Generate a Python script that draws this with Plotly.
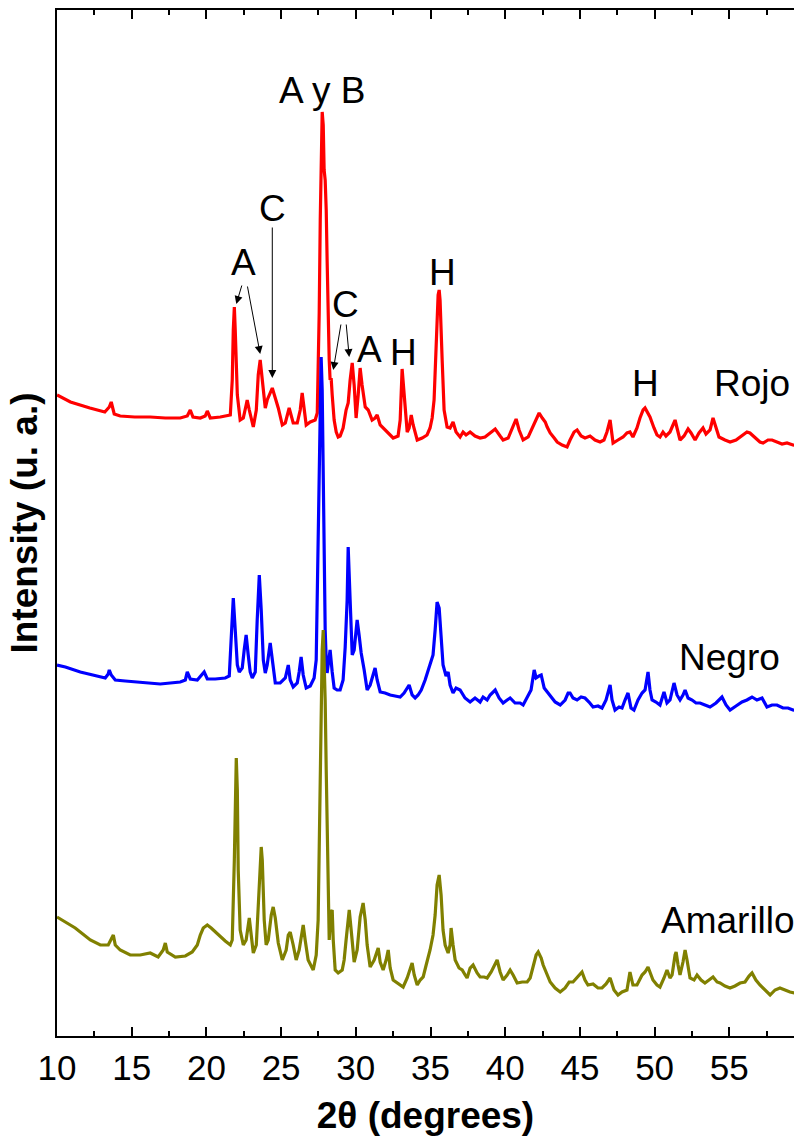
import plotly.graph_objects as go

# ---------------- data (2theta in degrees, stacked intensity in a.u.) ----------------
rojo_x = [10.0, 10.9, 12.2, 13.2, 13.5, 13.63, 13.83, 14.23, 15.2, 16.24, 17.25, 18.25, 18.72, 18.92, 19.1,
          19.59, 19.92, 20.06, 20.26, 20.93, 21.6, 21.73, 21.8, 21.87, 21.93, 22.07, 22.26, 22.47, 22.66, 22.73,
          22.87, 23.07, 23.14, 23.34, 23.47, 23.6, 23.74, 23.94, 24.07, 24.27, 24.41, 24.61, 24.81, 25.08, 25.28,
          25.54, 25.81, 26.08, 26.28, 26.41, 26.55, 26.68, 26.95, 27.28, 27.42, 27.48, 27.55, 27.62, 27.68, 27.75,
          27.82, 27.85, 27.88, 27.95, 28.02, 28.08, 28.15, 28.22, 28.28, 28.35, 28.42, 28.55, 28.69, 28.82, 28.95,
          29.15, 29.35, 29.49, 29.62, 29.76, 29.89, 30.02, 30.16, 30.29, 30.42, 30.63, 30.83, 31.09, 31.29, 31.43,
          31.63, 31.83, 32.17, 32.5, 32.83, 32.97, 33.1, 33.23, 33.44, 33.57, 33.71, 33.84, 34.11, 34.44, 34.77,
          34.97, 35.11, 35.24, 35.38, 35.51, 35.58, 35.64, 35.78, 35.91, 36.11, 36.31, 36.51, 36.71, 36.98, 37.18,
          37.38, 37.65, 37.98, 38.32, 38.65, 38.99, 39.33, 39.66, 39.86, 40.2, 40.47, 40.73, 40.93, 41.2, 41.54,
          41.8, 42.07, 42.27, 42.48, 42.68, 42.81, 43.01, 43.28, 43.48, 43.81, 44.14, 44.34, 44.61, 44.81, 45.08,
          45.34, 45.68, 46.01, 46.35, 46.61, 46.81, 47.02, 47.22, 47.55, 47.89, 48.15, 48.35, 48.55, 48.82, 49.02,
          49.23, 49.36, 49.56, 49.69, 49.96, 50.16, 50.36, 50.56, 50.76, 51.03, 51.23, 51.37, 51.5, 51.7, 51.97,
          52.24, 52.44, 52.71, 52.97, 53.24, 53.44, 53.71, 53.91, 54.11, 54.31, 54.71, 55.05, 55.45, 55.85, 56.18,
          56.38, 56.72, 57.05, 57.26, 57.59, 57.86, 58.19, 58.53, 58.86, 59.26, 59.73]
rojo_y = [641, 634, 628, 624, 629, 634, 622, 620, 619, 619, 618, 618, 620, 626, 619,
          618, 620, 625, 618, 619, 621, 656, 706, 729, 706, 641, 616, 618, 631, 636,
          626, 611, 609, 626, 661, 676, 656, 628, 636, 644, 648, 638, 628, 611, 613,
          628, 613, 613, 626, 643, 626, 611, 614, 616, 623, 656, 723, 816, 886, 924,
          911, 876, 866, 856, 826, 776, 716, 676, 656, 658, 641, 616, 604, 599, 600,
          608, 626, 633, 656, 673, 651, 618, 641, 668, 651, 629, 626, 616, 618, 621,
          611, 608, 604, 598, 600, 616, 667, 646, 604, 608, 621, 611, 596, 598, 601,
          608, 618, 636, 696, 741, 746, 736, 676, 626, 609, 608, 614, 604, 599, 604,
          601, 604, 600, 598, 599, 603, 607, 600, 596, 598, 608, 617, 606, 596, 599,
          608, 618, 623, 618, 614, 609, 603, 598, 594, 591, 589, 596, 604, 606, 600,
          598, 600, 596, 594, 596, 604, 616, 593, 596, 599, 603, 604, 599, 608, 618,
          626, 628, 623, 619, 608, 601, 599, 604, 600, 604, 611, 616, 608, 596, 600,
          607, 603, 596, 603, 608, 602, 606, 618, 608, 599, 596, 594, 596, 600, 604,
          603, 598, 594, 593, 596, 596, 594, 592, 593, 591, 590]

negro_x = [10.0, 10.56, 11.56, 12.56, 13.23, 13.43, 13.5, 13.63, 13.9, 14.57, 15.57, 16.24, 16.91, 17.58, 18.25,
           18.59, 18.72, 18.92, 19.39, 19.85, 20.06, 20.59, 21.26, 21.53, 21.67, 21.8, 21.93, 22.07, 22.2, 22.4,
           22.53, 22.66, 22.8, 22.93, 23.07, 23.27, 23.4, 23.54, 23.67, 23.81, 23.94, 24.07, 24.27, 24.41, 24.61,
           24.94, 25.28, 25.48, 25.61, 25.81, 26.08, 26.21, 26.34, 26.48, 26.68, 26.95, 27.21, 27.35, 27.48, 27.55,
           27.62, 27.68, 27.75, 27.82, 27.88, 27.95, 28.02, 28.08, 28.15, 28.28, 28.42, 28.55, 28.75, 28.95, 29.15,
           29.29, 29.42, 29.49, 29.62, 29.76, 29.89, 30.02, 30.09, 30.22, 30.36, 30.56, 30.76, 30.96, 31.16, 31.29,
           31.43, 31.63, 31.96, 32.3, 32.63, 32.97, 33.23, 33.44, 33.57, 33.77, 33.97, 34.17, 34.38, 34.64, 34.84,
           35.04, 35.17, 35.31, 35.44, 35.58, 35.71, 35.84, 36.04, 36.18, 36.31, 36.51, 36.71, 36.98, 37.31, 37.65,
           37.98, 38.32, 38.52, 38.79, 38.99, 39.33, 39.59, 39.86, 40.13, 40.33, 40.66, 41.0, 41.2, 41.47, 41.73,
           41.94, 42.07, 42.27, 42.41, 42.61, 42.81, 43.08, 43.34, 43.68, 44.01, 44.21, 44.34, 44.54, 44.81, 45.08,
           45.34, 45.61, 45.88, 46.21, 46.48, 46.75, 46.88, 47.02, 47.15, 47.35, 47.62, 47.82, 48.02, 48.22, 48.42,
           48.62, 48.89, 49.16, 49.36, 49.56, 49.69, 49.83, 50.09, 50.36, 50.63, 50.83, 51.03, 51.3, 51.5, 51.7,
           51.9, 52.04, 52.24, 52.51, 52.77, 53.04, 53.37, 53.71, 54.11, 54.51, 54.78, 55.05, 55.45, 55.85, 56.18,
           56.52, 56.85, 57.19, 57.52, 57.86, 58.19, 58.59, 58.93, 59.26, 59.73]
negro_y = [371, 369, 364, 360, 358, 362, 366, 361, 356, 355, 354, 353, 352, 353, 354,
           356, 364, 357, 356, 364, 357, 357, 358, 360, 396, 438, 406, 371, 364, 368,
           386, 401, 381, 364, 358, 364, 416, 461, 426, 376, 363, 371, 393, 376, 353,
           353, 358, 371, 356, 349, 353, 364, 379, 361, 348, 350, 358, 376, 496, 586,
           636, 679, 646, 563, 476, 406, 376, 363, 371, 386, 364, 348, 346, 346, 356,
           389, 436, 489, 436, 381, 386, 406, 416, 401, 383, 366, 346, 351, 361, 368,
           356, 344, 343, 341, 340, 339, 343, 348, 351, 341, 338, 341, 346, 356, 366,
           374, 381, 406, 434, 428, 396, 371, 360, 364, 351, 343, 348, 346, 338, 334,
           338, 334, 339, 336, 341, 346, 338, 333, 336, 338, 333, 333, 331, 338, 346,
           366, 358, 360, 361, 348, 344, 339, 334, 331, 336, 343, 343, 338, 336, 339,
           338, 334, 329, 330, 328, 336, 343, 351, 336, 326, 329, 328, 336, 343, 328,
           326, 336, 343, 346, 364, 346, 336, 334, 331, 344, 333, 336, 353, 341, 336,
           341, 346, 338, 336, 333, 333, 331, 329, 333, 339, 331, 326, 330, 334, 336,
           339, 336, 338, 329, 331, 331, 328, 328, 326, 325]

amarillo_x = [10.0, 10.56, 11.22, 12.23, 12.9, 13.43, 13.63, 13.77, 13.9, 14.23, 14.9, 15.57, 16.24, 16.77, 17.11,
              17.25, 17.38, 17.92, 18.59, 19.05, 19.39, 19.59, 19.79, 20.06, 20.32, 20.59, 20.93, 21.26, 21.6, 21.73,
              21.87, 21.93, 22.0, 22.07, 22.13, 22.26, 22.47, 22.66, 22.8, 22.87, 23.0, 23.14, 23.34, 23.47, 23.6,
              23.67, 23.74, 23.87, 24.0, 24.14, 24.34, 24.47, 24.61, 24.81, 25.08, 25.34, 25.48, 25.61, 25.81, 26.01,
              26.21, 26.34, 26.48, 26.61, 26.81, 27.15, 27.35, 27.48, 27.55, 27.62, 27.68, 27.75, 27.82, 27.88, 27.95,
              28.02, 28.08, 28.15, 28.22, 28.28, 28.35, 28.42, 28.49, 28.62, 28.82, 29.09, 29.22, 29.35, 29.49, 29.56,
              29.69, 29.89, 30.09, 30.29, 30.42, 30.49, 30.63, 30.76, 30.96, 31.23, 31.5, 31.63, 31.83, 32.03, 32.17,
              32.3, 32.5, 32.83, 33.17, 33.44, 33.64, 33.77, 33.91, 34.11, 34.31, 34.51, 34.71, 34.97, 35.17, 35.31,
              35.44, 35.58, 35.71, 35.84, 35.98, 36.18, 36.31, 36.38, 36.51, 36.65, 36.91, 37.12, 37.32, 37.45, 37.65,
              37.85, 38.12, 38.32, 38.59, 38.79, 39.06, 39.33, 39.46, 39.66, 39.86, 40.13, 40.33, 40.53, 40.8, 41.14,
              41.47, 41.67, 41.87, 42.07, 42.21, 42.41, 42.54, 42.81, 43.01, 43.34, 43.68, 44.01, 44.28, 44.54, 44.81,
              45.01, 45.14, 45.34, 45.54, 45.88, 46.21, 46.48, 46.75, 47.02, 47.28, 47.55, 47.82, 48.15, 48.35, 48.55,
              48.82, 49.16, 49.36, 49.56, 49.76, 49.89, 50.16, 50.36, 50.63, 50.83, 51.03, 51.17, 51.37, 51.44, 51.57,
              51.7, 51.9, 52.04, 52.17, 52.37, 52.64, 52.84, 53.11, 53.37, 53.64, 53.91, 54.18, 54.38, 54.71, 55.05,
              55.38, 55.72, 56.05, 56.32, 56.52, 56.78, 57.05, 57.39, 57.73, 58.06, 58.39, 58.73, 59.06, 59.39, 59.73]
amarillo_y = [119, 114, 108, 96, 91, 91, 98, 101, 91, 86, 81, 81, 83, 79, 86,
              93, 84, 79, 80, 84, 91, 101, 108, 111, 108, 104, 99, 95, 91, 96,
              176, 236, 278, 246, 166, 106, 91, 96, 111, 118, 101, 83, 91, 136, 181,
              189, 176, 116, 91, 96, 121, 129, 118, 93, 76, 86, 101, 104, 91, 76,
              86, 101, 111, 96, 76, 66, 81, 116, 186, 276, 336, 386, 406, 376, 336,
              266, 203, 146, 96, 111, 124, 126, 96, 66, 63, 66, 76, 96, 121, 126,
              106, 74, 86, 119, 128, 133, 116, 91, 69, 76, 88, 74, 66, 76, 86,
              68, 56, 53, 49, 58, 68, 73, 61, 51, 56, 59, 71, 86, 101, 121,
              151, 161, 141, 106, 91, 83, 91, 108, 91, 76, 68, 66, 61, 58, 68,
              71, 63, 59, 59, 58, 64, 73, 76, 64, 56, 61, 66, 61, 53, 54,
              54, 58, 71, 81, 84, 78, 71, 61, 54, 48, 44, 48, 54, 54, 58,
              61, 64, 56, 51, 52, 48, 48, 52, 58, 46, 41, 44, 46, 64, 51,
              51, 61, 64, 69, 61, 56, 51, 49, 58, 66, 58, 61, 81, 84, 71,
              61, 74, 86, 76, 58, 56, 61, 56, 53, 56, 59, 54, 53, 50, 48,
              50, 53, 54, 60, 63, 56, 51, 46, 41, 46, 48, 46, 44, 43, 42]

series_names = ["Rojo", "Negro", "Amarillo"]
series_colors = ["#ff0000", "#0000ff", "#808000"]

x_ticks = [10, 15, 20, 25, 30, 35, 40, 45, 50, 55]
x_minor_ticks = [12.5, 17.5, 22.5, 27.5, 32.5, 37.5, 42.5, 47.5, 52.5, 57.5]

FONT = "Liberation Sans, Arial, sans-serif"
LABEL_SIZE = 37

fig = go.Figure()
for name, xs, ys, col in zip(series_names,
                             [rojo_x, negro_x, amarillo_x],
                             [rojo_y, negro_y, amarillo_y],
                             series_colors):
    fig.add_trace(go.Scatter(x=xs, y=ys, mode="lines", name=name,
                             line=dict(color=col, width=3.2), showlegend=False))

# ---------------- text labels ----------------
labels = [
    ("A y B", 27.75, 946),
    ("C", 24.41, 828),
    ("A", 22.47, 774),
    ("C", 29.29, 732),
    ("A", 30.89, 687),
    ("H", 33.17, 684),
    ("H", 35.78, 764),
    ("H", 49.36, 653),
    ("Rojo", 56.52, 653),
    ("Negro", 54.98, 379),
]
for txt, lx, ly in labels:
    fig.add_annotation(x=lx, y=ly, text=txt, showarrow=False,
                       font=dict(family=FONT, size=LABEL_SIZE, color="black"),
                       xanchor="center", yanchor="middle")
fig.add_annotation(x=50.3, y=116, text="Amarillo", showarrow=False,
                   font=dict(family=FONT, size=LABEL_SIZE, color="black"),
                   xanchor="left", yanchor="middle")

# arrows: (tip_x, tip_y, tail_x, tail_y)
arrows = [
    (24.41, 658, 24.41, 810),
    (22.0, 732, 22.4, 752),
    (23.6, 682, 22.73, 751),
    (28.49, 666, 29.02, 713),
    (29.56, 679, 29.35, 713),
]
for tx, ty, sx, sy in arrows:
    fig.add_annotation(x=tx, y=ty, ax=sx, ay=sy, axref="x", ayref="y",
                       text="", showarrow=True, arrowhead=2, arrowsize=1.6,
                       arrowwidth=1, arrowcolor="black")

fig.update_layout(
    width=794, height=1138,
    margin=dict(l=57, r=0, t=10, b=102),
    paper_bgcolor="white", plot_bgcolor="white",
    font=dict(family=FONT, color="black"),
)
fig.update_xaxes(
    range=[10, 59.33], tickvals=x_ticks, ticktext=[str(v) for v in x_ticks],
    ticks="inside", ticklen=9, tickwidth=1.5, tickcolor="black",
    minor=dict(ticks="inside", ticklen=5, tickwidth=1.5, tickcolor="black", tickvals=x_minor_ticks),
    showline=True, linewidth=2, linecolor="black", mirror="ticks",
    showgrid=False, zeroline=False,
    tickfont=dict(family=FONT, size=35, color="black"),
    title=dict(text="<b>2θ (degrees)</b>", font=dict(family=FONT, size=37, color="black"), standoff=16),
)
fig.update_yaxes(
    range=[0, 1026], showticklabels=False, ticks="",
    showline=True, linewidth=2, linecolor="black", mirror=False,
    showgrid=False, zeroline=False,
    title=dict(text="<b>Intensity (u. a.)</b>", font=dict(family=FONT, size=37, color="black"), standoff=6),
)

fig.write_html("out.html")
